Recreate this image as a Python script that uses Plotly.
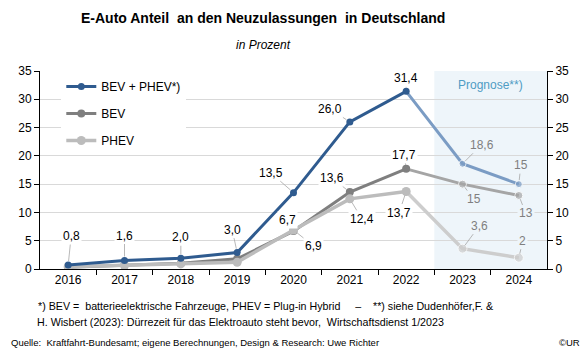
import plotly.graph_objects as go

years = ["2016", "2017", "2018", "2019", "2020", "2021", "2022", "2023", "2024"]
total = [0.7, 1.5, 1.9, 2.9, 13.5, 26.0, 31.4, 18.6, 15.0]
bev = [0.3, 0.6, 1.0, 1.8, 6.7, 13.6, 17.7, 15.0, 13.0]
phev = [0.4, 0.7, 0.9, 1.2, 6.9, 12.4, 13.7, 3.6, 2.0]
total_labels = ["0,8", "1,6", "2,0", "3,0", "13,5", "26,0", "31,4", "18,6", "15"]
bev_labels = [None, None, None, None, "6,7", "13,6", "17,7", "15", "13"]
phev_labels = [None, None, None, None, "6,9", "12,4", "13,7", "3,6", "2"]
yticks = [0, 5, 10, 15, 20, 25, 30, 35]

HIST = 7  # number of historical points (2016-2022)

C_TOT = "#2f5b8f"
C_TOT_F = "#7b9cc4"
C_BEV = "#7f7f7f"
C_BEV_F = "#a5a5a5"
C_PHEV = "#bcbcbc"
C_PHEV_F = "#cdcdcd"
SHADE = "#eef5fa"
FONT = "Liberation Sans, Arial, sans-serif"

xi = list(range(len(years)))

fig = go.Figure()

def add_series(name, vals, c_hist, c_fore, msize, width, rank):
    fig.add_trace(go.Scatter(
        x=xi[HIST - 1:], y=vals[HIST - 1:], mode="lines+markers",
        line=dict(color=c_fore, width=width),
        marker=dict(color=c_fore, size=[0] + [msize] * (len(vals) - HIST)),
        showlegend=False, hoverinfo="skip"))
    fig.add_trace(go.Scatter(
        x=xi[:HIST], y=vals[:HIST], mode="lines+markers", name=name,
        line=dict(color=c_hist, width=width),
        marker=dict(color=c_hist, size=msize),
        legendgroup=name, legendrank=rank))

add_series("BEV", bev, C_BEV, C_BEV_F, 8, 3, 2)
add_series("PHEV", phev, C_PHEV, C_PHEV_F, 9, 3.5, 3)
add_series("BEV + PHEV*)", total, C_TOT, C_TOT_F, 7, 3, 1)

fig.add_trace(go.Scatter(x=xi, y=total, yaxis="y2", mode="markers",
                         marker=dict(opacity=0), showlegend=False, hoverinfo="skip"))

tot_off = [(3, -29), (0, -25), (0, -21), (-5, -23), (-23, -20), (-20, -13), (0, -13), (19, -19), (2, -19)]
bev_off = [None, None, None, None, (-6, -11), (-18, -14), (-2, -14), (11, 15), (7, 18)]
phev_off = [None, None, None, None, (20, 16), (12, 20), (-7, 21), (17, -23), (4, -17)]

def add_labels(vals, labels, offs):
    for i, (v, lab, off) in enumerate(zip(vals, labels, offs)):
        if lab is None:
            continue
        fore = i >= HIST
        fig.add_annotation(
            x=xi[i], y=v, xref="x", yref="y", text=lab, ax=off[0], ay=off[1],
            showarrow=True, arrowhead=0, arrowwidth=0.8, arrowcolor="#a6a6a6",
            standoff=4,
            font=dict(family=FONT, size=12, color="#7f7f7f" if fore else "#000000"),
            bgcolor=SHADE if fore else "white", borderpad=1)

add_labels(total, total_labels, tot_off)
add_labels(bev, bev_labels, bev_off)
add_labels(phev, phev_labels, phev_off)

fig.add_shape(type="rect", xref="x", yref="paper", x0=6.5, x1=8.5, y0=0, y1=1,
              fillcolor=SHADE, line=dict(width=0), layer="below")
fig.add_annotation(x=7.5, xref="x", y=32.6, yref="y", text="Prognose**)", showarrow=False,
                   font=dict(family=FONT, size=12, color="#4f9cc4"))

fig.add_annotation(xref="paper", yref="paper", x=0.44, y=1.0, yshift=53, yanchor="middle",
                   text="<b>E-Auto Anteil  an den Neuzulassungen  in Deutschland</b>",
                   showarrow=False, font=dict(family=FONT, size=14, color="#000"))
fig.add_annotation(xref="paper", yref="paper", x=0.44, y=1.0, yshift=26, yanchor="middle",
                   text="<i>in Prozent</i>",
                   showarrow=False, font=dict(family=FONT, size=12, color="#000"))
fig.add_annotation(xref="paper", yref="paper", x=-0.008, y=0, yshift=-37, xanchor="left", yanchor="middle",
                   text="*) BEV =  batterieelektrische Fahrzeuge, PHEV = Plug-in Hybrid     –    **) siehe Dudenhöfer,F. &",
                   showarrow=False, font=dict(family=FONT, size=10.7, color="#000"))
fig.add_annotation(xref="paper", yref="paper", x=-0.01, y=0, yshift=-53, xanchor="left", yanchor="middle",
                   text="H. Wisbert (2023): Dürrezeit für das Elektroauto steht bevor,  Wirtschaftsdienst 1/2023",
                   showarrow=False, font=dict(family=FONT, size=10.7, color="#000"))
fig.add_annotation(xref="paper", yref="paper", x=-0.061, y=0, yshift=-73, xanchor="left", yanchor="middle",
                   text="Quelle:  Kraftfahrt-Bundesamt; eigene Berechnungen, Design & Research: Uwe Richter",
                   showarrow=False, font=dict(family=FONT, size=9.5, color="#000"))
fig.add_annotation(xref="paper", yref="paper", x=1.07, y=0, yshift=-73, xanchor="right", yanchor="middle",
                   text="©UR", showarrow=False, font=dict(family=FONT, size=9.5, color="#000"))

axis_common = dict(range=[0, 35], tickvals=yticks, ticks="outside", ticklen=5, tickcolor="#000",
                   showline=True, linecolor="#000", linewidth=1, zeroline=False,
                   tickfont=dict(family=FONT, size=12, color="#000"))

fig.update_layout(
    width=586, height=352,
    margin=dict(l=40, r=39, t=71, b=83),
    paper_bgcolor="white", plot_bgcolor="white",
    font=dict(family=FONT, size=12, color="#000"),
    xaxis=dict(range=[-0.5, 8.5], tickvals=xi, ticktext=years,
               ticks="", showline=True, linecolor="#000", linewidth=1,
               showgrid=False, zeroline=False,
               minor=dict(tickvals=[i + 0.5 for i in xi[:-1]], ticks="outside", ticklen=5, tickcolor="#000"),
               tickfont=dict(family=FONT, size=12, color="#000")),
    yaxis=dict(**axis_common, showgrid=True, gridcolor="#d9d9d9", gridwidth=1, side="left"),
    yaxis2=dict(**axis_common, overlaying="y", side="right", showgrid=False),
    legend=dict(x=0.042, y=0.995, xanchor="left", yanchor="top", bgcolor="white",
                traceorder="grouped", tracegroupgap=8,
                font=dict(family=FONT, size=12, color="#000")),
    showlegend=True,
)

fig.write_html("out.html")
